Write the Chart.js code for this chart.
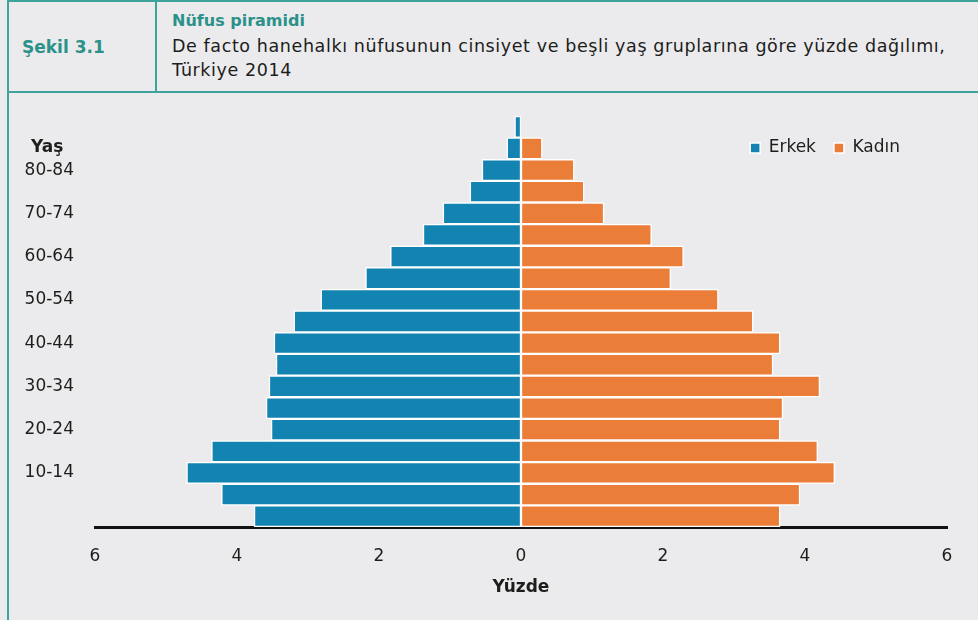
<!DOCTYPE html>
<html>
<head>
<meta charset="utf-8">
<script src="https://cdn.jsdelivr.net/npm/chart.js@4.4.1/dist/chart.umd.min.js"></script>
<style>
  html, body { margin: 0; padding: 0; }
  body { width: 978px; height: 620px; background: #ebebed; position: relative; overflow: hidden; font-family: "DejaVu Sans", sans-serif; }
  .line { position: absolute; background: #3fa39d; }
  #sekil { position: absolute; left: 22px; top: 37px; font-size: 17px; font-weight: bold; color: #2b918a; }
  #baslik { position: absolute; left: 172px; top: 8px; font-size: 17.5px; line-height: 24.5px; letter-spacing: 0.6px; color: #1d1d1b; }
  #baslik b { color: #2b918a; font-size: 16px; letter-spacing: 0; }
  #wrap { position: absolute; left: 0; top: 0; width: 978px; height: 620px; }
</style>
</head>
<body>
<div class="line" style="left:7px;top:0;width:2px;height:620px"></div>
<div class="line" style="left:7px;top:0;width:971px;height:2px"></div>
<div class="line" style="left:9px;top:91px;width:969px;height:2px"></div>
<div class="line" style="left:155px;top:0;width:2px;height:92px"></div>
<div id="sekil">Şekil 3.1</div>
<div id="baslik"><b>Nüfus piramidi</b><br>De facto hanehalkı nüfusunun cinsiyet ve beşli yaş gruplarına göre yüzde dağılımı,<br>Türkiye 2014</div>
<div id="wrap"><canvas id="pyramid" width="978" height="620"></canvas></div>
<script>
// yaş grupları, alttan üste
const ageGroups = ["0-4", "5-9", "10-14", "15-19", "20-24", "25-29", "30-34", "35-39", "40-44",
  "45-49", "50-54", "55-59", "60-64", "65-69", "70-74", "75-79", "80-84", "85-89", "90+"];
const shownAges = ["10-14", "20-24", "30-34", "40-44", "50-54", "60-64", "70-74", "80-84"];
const erkek = [3.76, 4.22, 4.71, 4.36, 3.52, 3.59, 3.55, 3.45, 3.48, 3.20, 2.82, 2.19, 1.84, 1.38, 1.10, 0.72, 0.55, 0.20, 0.09];
const kadin = [3.65, 3.93, 4.42, 4.18, 3.65, 3.69, 4.21, 3.55, 3.65, 3.27, 2.78, 2.11, 2.29, 1.84, 1.17, 0.89, 0.75, 0.30, 0];
const xMin = -6, xMax = 6, xStep = 2;

Chart.defaults.font.family = '"DejaVu Sans", sans-serif';
Chart.defaults.color = "#1d1d1b";

// legend'i çizim alanının içine, sağ üste taşı
const moveLegend = {
  id: "moveLegend",
  afterLayout(chart) {
    const lg = chart.legend;
    lg.right = chart.chartArea.right - 29;
    lg.top = chart.chartArea.top + 5.5;
    lg.bottom = lg.top + 50;
  },
};

// "Yaş" başlığı
const yasLabel = {
  id: "yasLabel",
  afterDraw(chart) {
    const { ctx } = chart;
    const y = chart.scales.y.getPixelForValue(17);
    ctx.save();
    ctx.font = 'bold 17px "DejaVu Sans"';
    ctx.fillStyle = "#1d1d1b";
    ctx.textAlign = "left";
    ctx.textBaseline = "middle";
    ctx.fillText("Yaş", 31, y - 1);
    ctx.restore();
  },
};

new Chart(document.getElementById("pyramid"), {
  type: "bar",
  data: {
    labels: ageGroups,
    datasets: [
      {
        label: "Erkek",
        data: erkek.map((v) => -v),
        backgroundColor: "#1384b1",
        borderColor: "#ffffff",
        borderWidth: 1.5,
        borderSkipped: false,
      },
      {
        label: "Kadın",
        data: kadin,
        backgroundColor: "#ea7e38",
        borderColor: "#ffffff",
        borderWidth: 1.5,
        borderSkipped: false,
      },
    ],
  },
  options: {
    indexAxis: "y",
    responsive: false,
    animation: false,
    barPercentage: 1,
    categoryPercentage: 1,
    layout: { padding: { top: 115, right: 31, left: 0, bottom: 0 } },
    plugins: {
      tooltip: { enabled: false },
      legend: {
        position: "top",
        align: "end",
        maxHeight: 1,
        labels: { boxWidth: 10, boxHeight: 10, padding: 18, font: { size: 17 }, color: "#1d1d1b" },
      },
    },
    scales: {
      x: {
        type: "linear",
        min: xMin,
        max: xMax,
        stacked: true,
        grid: { display: false },
        border: { display: true, color: "#111111", width: 3 },
        ticks: { stepSize: xStep, padding: 11, font: { size: 17 }, callback: (v) => Math.abs(v) },
        title: { display: true, text: "Yüzde", font: { size: 17, weight: "bold" }, padding: { top: 0, bottom: 22 } },
        afterFit(s) { s.height = 93; },
      },
      y: {
        stacked: true,
        reverse: true,
        grid: { display: false },
        border: { display: false },
        ticks: {
          autoSkip: false,
          padding: 13,
          font: { size: 17 },
          callback(v, i) {
            const l = ageGroups[i];
            return shownAges.includes(l) ? l : "";
          },
        },
        afterFit(s) { s.width = 95; },
      },
    },
  },
  plugins: [moveLegend, yasLabel],
});
</script>
</body>
</html>
